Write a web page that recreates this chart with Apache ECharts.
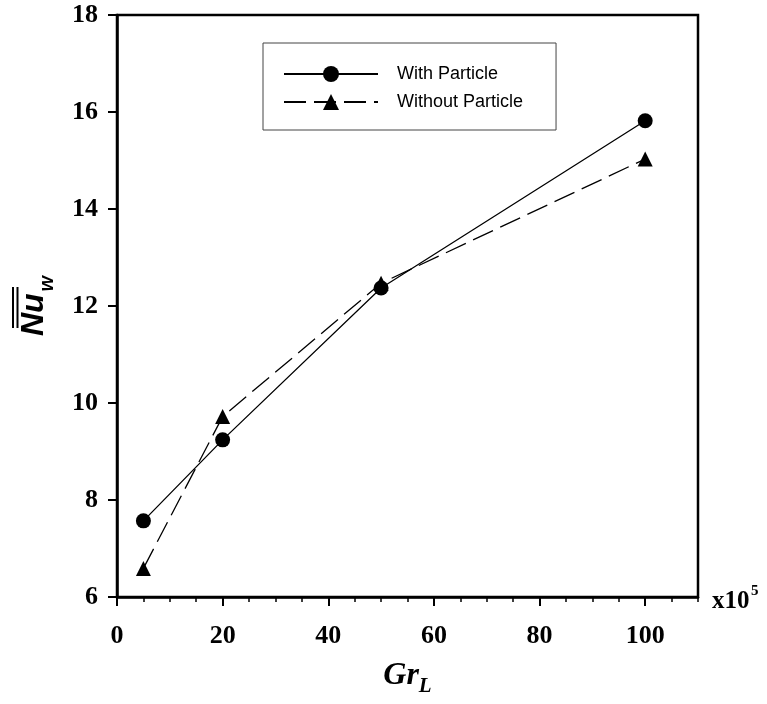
<!DOCTYPE html>
<html>
<head>
<meta charset="utf-8">
<script src="https://cdn.jsdelivr.net/npm/echarts@6/dist/echarts.min.js"></script>
<style>
html,body{margin:0;padding:0;background:#fff;}
#chart{width:767px;height:704px;}
</style>
</head>
<body>
<div id="chart"></div>
<script>
// ---- data ----
var grValues = [5, 20, 50, 100];
var withParticle = [7.57, 9.24, 12.37, 15.82];
var withoutParticle = [6.59, 9.72, 12.47, 15.03];
var seriesNames = ['With Particle', 'Without Particle'];
var xMajorTicks = [0, 20, 40, 60, 80, 100];
var xMinorTicks = [5, 10, 15, 25, 30, 35, 45, 50, 55, 65, 70, 75, 85, 90, 95, 105, 110];
var yTicks = [6, 8, 10, 12, 14, 16, 18];

function pairs(xs, ys) { return xs.map(function (x, i) { return [x, ys[i]]; }); }

var serifBold = { fontFamily: 'Liberation Serif', fontWeight: 'bold', color: '#000' };

var chart = echarts.init(document.getElementById('chart'));
chart.setOption({
  backgroundColor: '#fff',
  animation: false,
  grid: { left: 117, right: 69, top: 15, bottom: 107, show: true, borderColor: '#000', borderWidth: 2.5 },
  legend: {
    orient: 'vertical', left: 263, top: 43,
    padding: [22, 33, 19, 20],
    itemWidth: 94, itemHeight: 20, itemGap: 10,
    borderColor: '#444', borderWidth: 1,
    textStyle: { fontFamily: 'Liberation Sans', fontSize: 18, color: '#000', padding: [0, 0, 0, 14] },
    data: seriesNames
  },
  xAxis: [{
    type: 'value', min: 0, max: 110, interval: 20, position: 'bottom',
    axisLine: { lineStyle: { color: '#000', width: 2.5 } },
    axisTick: { customValues: xMajorTicks, length: 9, lineStyle: { color: '#000', width: 2 } },
    axisLabel: Object.assign({ customValues: xMajorTicks, fontSize: 26, margin: 26 }, serifBold),
    splitLine: { show: false },
    name: '{m|Gr}{s|L}', nameLocation: 'middle', nameGap: 56,
    nameTextStyle: {
      rich: {
        m: { fontFamily: 'Liberation Serif', fontWeight: 'bold', fontStyle: 'italic', fontSize: 32, color: '#000', lineHeight: 44 },
        s: { fontFamily: 'Liberation Serif', fontWeight: 'bold', fontStyle: 'italic', fontSize: 21, color: '#000', lineHeight: 21, padding: [22, 0, 0, 0] }
      }
    }
  }, {
    type: 'value', min: 0, max: 110, interval: 5, position: 'bottom',
    axisLine: { show: false },
    axisTick: { customValues: xMinorTicks, length: 5, lineStyle: { color: '#000', width: 1.5 } },
    axisLabel: { show: false },
    splitLine: { show: false }
  }],
  yAxis: {
    type: 'value', min: 6, max: 18, interval: 2,
    axisLine: { show: true, lineStyle: { color: '#000', width: 2.5 } },
    axisTick: { show: true, customValues: yTicks, length: 9, lineStyle: { color: '#000', width: 2 } },
    axisLabel: Object.assign({ fontSize: 26, margin: 19 }, serifBold),
    splitLine: { show: false },
    name: '{m|Nu}{s|w}', nameLocation: 'middle', nameGap: 58, nameRotate: 90,
    nameTextStyle: {
      rich: {
        m: { fontFamily: 'Liberation Sans', fontWeight: 'bold', fontStyle: 'italic', fontSize: 32, color: '#000', lineHeight: 50 },
        s: { fontFamily: 'Liberation Sans', fontWeight: 'bold', fontStyle: 'italic', fontSize: 20, color: '#000', lineHeight: 20, padding: [26, 0, 0, 2] }
      }
    }
  },
  graphic: [
    { type: 'line', shape: { x1: 13, y1: 287, x2: 13, y2: 328 }, style: { stroke: '#000', lineWidth: 2 } },
    { type: 'line', shape: { x1: 17.5, y1: 287, x2: 17.5, y2: 328 }, style: { stroke: '#000', lineWidth: 2 } },
    { type: 'text', left: 712, top: 589, style: { text: 'x10', font: 'bold 25px "Liberation Serif"', fill: '#000' } },
    { type: 'text', left: 751, top: 584, style: { text: '5', font: 'bold 15px "Liberation Serif"', fill: '#000' } }
  ],
  series: [{
    name: seriesNames[0], type: 'line', xAxisIndex: 0,
    data: pairs(grValues, withParticle),
    symbol: 'circle', symbolSize: 15,
    itemStyle: { color: '#000' },
    lineStyle: { color: '#000', width: 1.3, type: 'solid' }
  }, {
    name: seriesNames[1], type: 'line', xAxisIndex: 0,
    data: pairs(grValues, withoutParticle),
    symbol: 'triangle', symbolSize: 15,
    itemStyle: { color: '#000' },
    lineStyle: { color: '#000', width: 1.3, type: [22, 8] }
  }]
});
</script>
</body>
</html>
